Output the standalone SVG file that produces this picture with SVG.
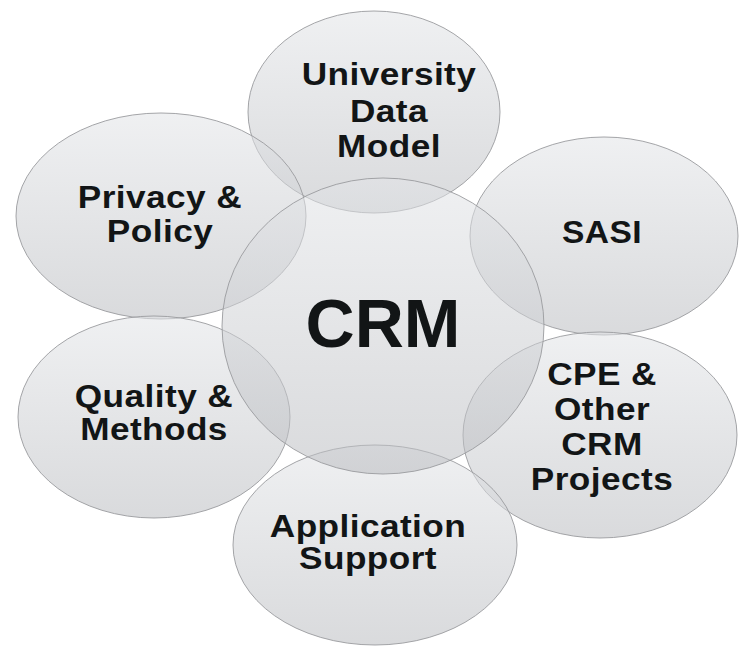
<svg xmlns="http://www.w3.org/2000/svg" width="755" height="653" viewBox="0 0 755 653">
  <defs>
    <linearGradient id="g" x1="0" y1="0" x2="0" y2="1">
      <stop offset="0" stop-color="#e2e4e7"/>
      <stop offset="1" stop-color="#babcc0"/>
    </linearGradient>
  </defs>
  <style>
    .bub { fill: url(#g); fill-opacity: 0.55; stroke: #9a9b9e; stroke-width: 0.9; }
    .lbl { font-family: "Liberation Sans", Arial, Helvetica, sans-serif; font-weight: bold; font-size: 32px; letter-spacing: 0.4px; fill: #121516; text-anchor: middle; }
    .big { font-size: 68px; letter-spacing: 0; }
  </style>
  <rect width="755" height="653" fill="#ffffff"/>
  <g id="connectors"></g>
  <g id="university">
    <ellipse class="bub" cx="374" cy="112" rx="126" ry="101"/>
    <text class="lbl" transform="translate(389 85) scale(1.1 1)">University</text>
    <text class="lbl" transform="translate(389 122) scale(1.1 1)">Data</text>
    <text class="lbl" transform="translate(389 157) scale(1.1 1)">Model</text>
  </g>
  <g id="privacy">
    <ellipse class="bub" cx="161" cy="216" rx="145" ry="103"/>
    <text class="lbl" transform="translate(160 208) scale(1.1 1)">Privacy &amp;</text>
    <text class="lbl" transform="translate(160 242) scale(1.1 1)">Policy</text>
  </g>
  <g id="sasi">
    <ellipse class="bub" cx="604" cy="236" rx="134" ry="99"/>
    <text class="lbl" transform="translate(602 243) scale(1.05 1)">SASI</text>
  </g>
  <g id="quality">
    <ellipse class="bub" cx="154" cy="417" rx="136" ry="101"/>
    <text class="lbl" transform="translate(154 407) scale(1.1 1)">Quality &amp;</text>
    <text class="lbl" transform="translate(154 440) scale(1.1 1)">Methods</text>
  </g>
  <g id="cpe">
    <ellipse class="bub" cx="600" cy="435" rx="137" ry="103"/>
    <text class="lbl" transform="translate(602 385) scale(1.1 1)">CPE &amp;</text>
    <text class="lbl" transform="translate(602 420) scale(1.1 1)">Other</text>
    <text class="lbl" transform="translate(602 455) scale(1.1 1)">CRM</text>
    <text class="lbl" transform="translate(602 490) scale(1.1 1)">Projects</text>
  </g>
  <g id="application">
    <ellipse class="bub" cx="375" cy="545" rx="142" ry="100"/>
    <text class="lbl" transform="translate(368 537) scale(1.1 1)">Application</text>
    <text class="lbl" transform="translate(368 569) scale(1.1 1)">Support</text>
  </g>
  <g id="crm">
    <ellipse class="bub" cx="383" cy="326" rx="161" ry="148"/>
    <text class="lbl big" x="383" y="347">CRM</text>
  </g>
</svg>
